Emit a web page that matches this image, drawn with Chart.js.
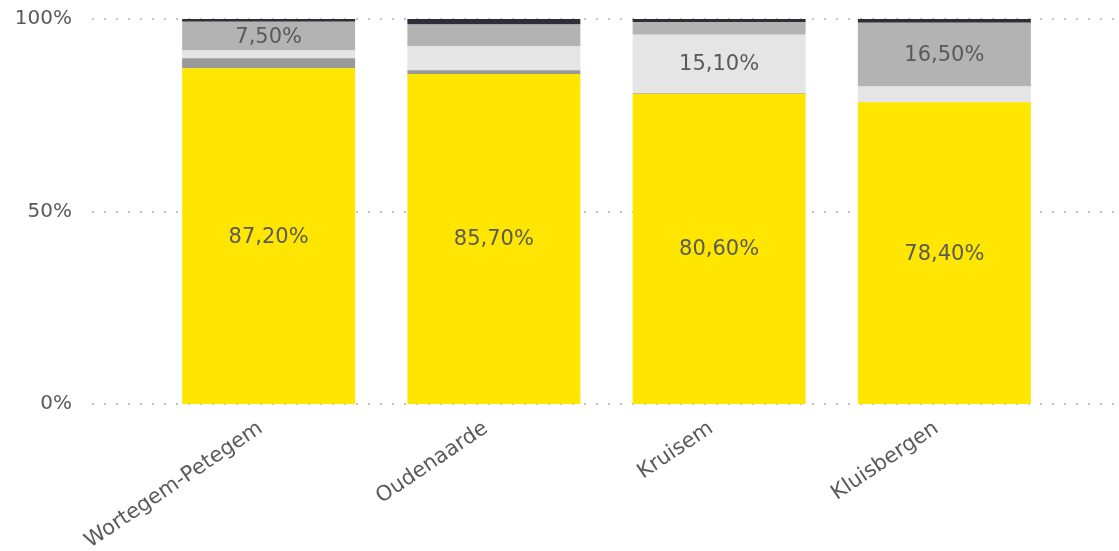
<!DOCTYPE html>
<html>
<head>
<meta charset="utf-8">
<script src="https://cdn.jsdelivr.net/npm/chart.js@4.4.1/dist/chart.umd.min.js"></script>
<style>
  html, body { margin: 0; padding: 0; background: #fff; }
  #wrap { width: 1119px; height: 551px; }
</style>
</head>
<body>
<div id="wrap"><canvas id="grafico"></canvas></div>
<script>
const gemeenten = ['Wortegem-Petegem', 'Oudenaarde', 'Kruisem', 'Kluisbergen'];
const geel = [87.2, 85.7, 80.6, 78.4];
const grijs = [2.6, 1.0, 0.2, 0.0];
const lichtgrijs = [2.0, 6.3, 15.1, 4.1];
const middengrijs = [7.5, 5.6, 3.3, 16.5];
const donker = [0.7, 1.4, 0.8, 1.0];
const yTicks = [0, 50, 100];

const tekstKleur = '#5a5a5a';
const lettertype = '"DejaVu Sans", sans-serif';

// stippellijnen over de hele breedte
const stippels = {
  id: 'stippels',
  beforeDatasetsDraw(chart) {
    const c = chart.ctx, y = chart.scales.y;
    c.save();
    c.strokeStyle = '#c4c4c4';
    c.lineWidth = 2;
    c.setLineDash([2, 10]);
    yTicks.forEach(v => {
      const py = Math.round(y.getPixelForValue(v));
      c.beginPath();
      c.moveTo(92, py);
      c.lineTo(1118, py);
      c.stroke();
    });
    c.restore();
  }
};

// waarden in de balken (alleen grote stukken)
const labels = {
  id: 'labels',
  afterDatasetsDraw(chart) {
    const c = chart.ctx;
    c.save();
    c.font = '21px ' + lettertype;
    c.fillStyle = tekstKleur;
    c.textAlign = 'center';
    c.textBaseline = 'middle';
    chart.data.datasets.forEach((ds, i) => {
      chart.getDatasetMeta(i).data.forEach((bar, j) => {
        const v = ds.data[j];
        if (v < 7) return;
        const midden = (bar.y + bar.base) / 2;
        c.fillText(v.toFixed(2).replace('.', ',') + '%', bar.x, midden + 1);
      });
    });
    c.restore();
  }
};

const reeks = (data, kleur) => ({
  data: data,
  backgroundColor: kleur,
  borderWidth: 0,
  barPercentage: 0.768,
  categoryPercentage: 1
});

new Chart(document.getElementById('grafico').getContext('2d'), {
  type: 'bar',
  data: {
    labels: gemeenten,
    datasets: [
      reeks(geel, '#ffe600'),
      reeks(grijs, '#999999'),
      reeks(lichtgrijs, '#e5e5e5'),
      reeks(middengrijs, '#b3b3b3'),
      reeks(donker, '#2e2e38')
    ]
  },
  options: {
    responsive: true,
    maintainAspectRatio: false,
    animation: false,
    layout: { padding: { top: 19, right: 62, left: 0, bottom: 0 } },
    plugins: {
      legend: { display: false },
      tooltip: { enabled: false }
    },
    scales: {
      x: {
        stacked: true,
        grid: { display: false },
        border: { display: false },
        ticks: {
          color: tekstKleur,
          font: { family: lettertype, size: 21 },
          minRotation: 34,
          maxRotation: 34,
          labelOffset: -8,
          padding: 4
        },
        afterFit: s => { s.height = 147; }
      },
      y: {
        stacked: true,
        min: 0,
        max: 100,
        grid: { display: false },
        border: { display: false },
        afterBuildTicks: s => { s.ticks = yTicks.map(v => ({ value: v })); },
        ticks: {
          color: tekstKleur,
          font: { family: lettertype, size: 20 },
          padding: 76,
          callback: v => v + '%'
        },
        afterFit: s => { s.width = 156; s.paddingTop = 10; s.paddingBottom = 10; }
      }
    }
  },
  plugins: [stippels, labels]
});
</script>
</body>
</html>
